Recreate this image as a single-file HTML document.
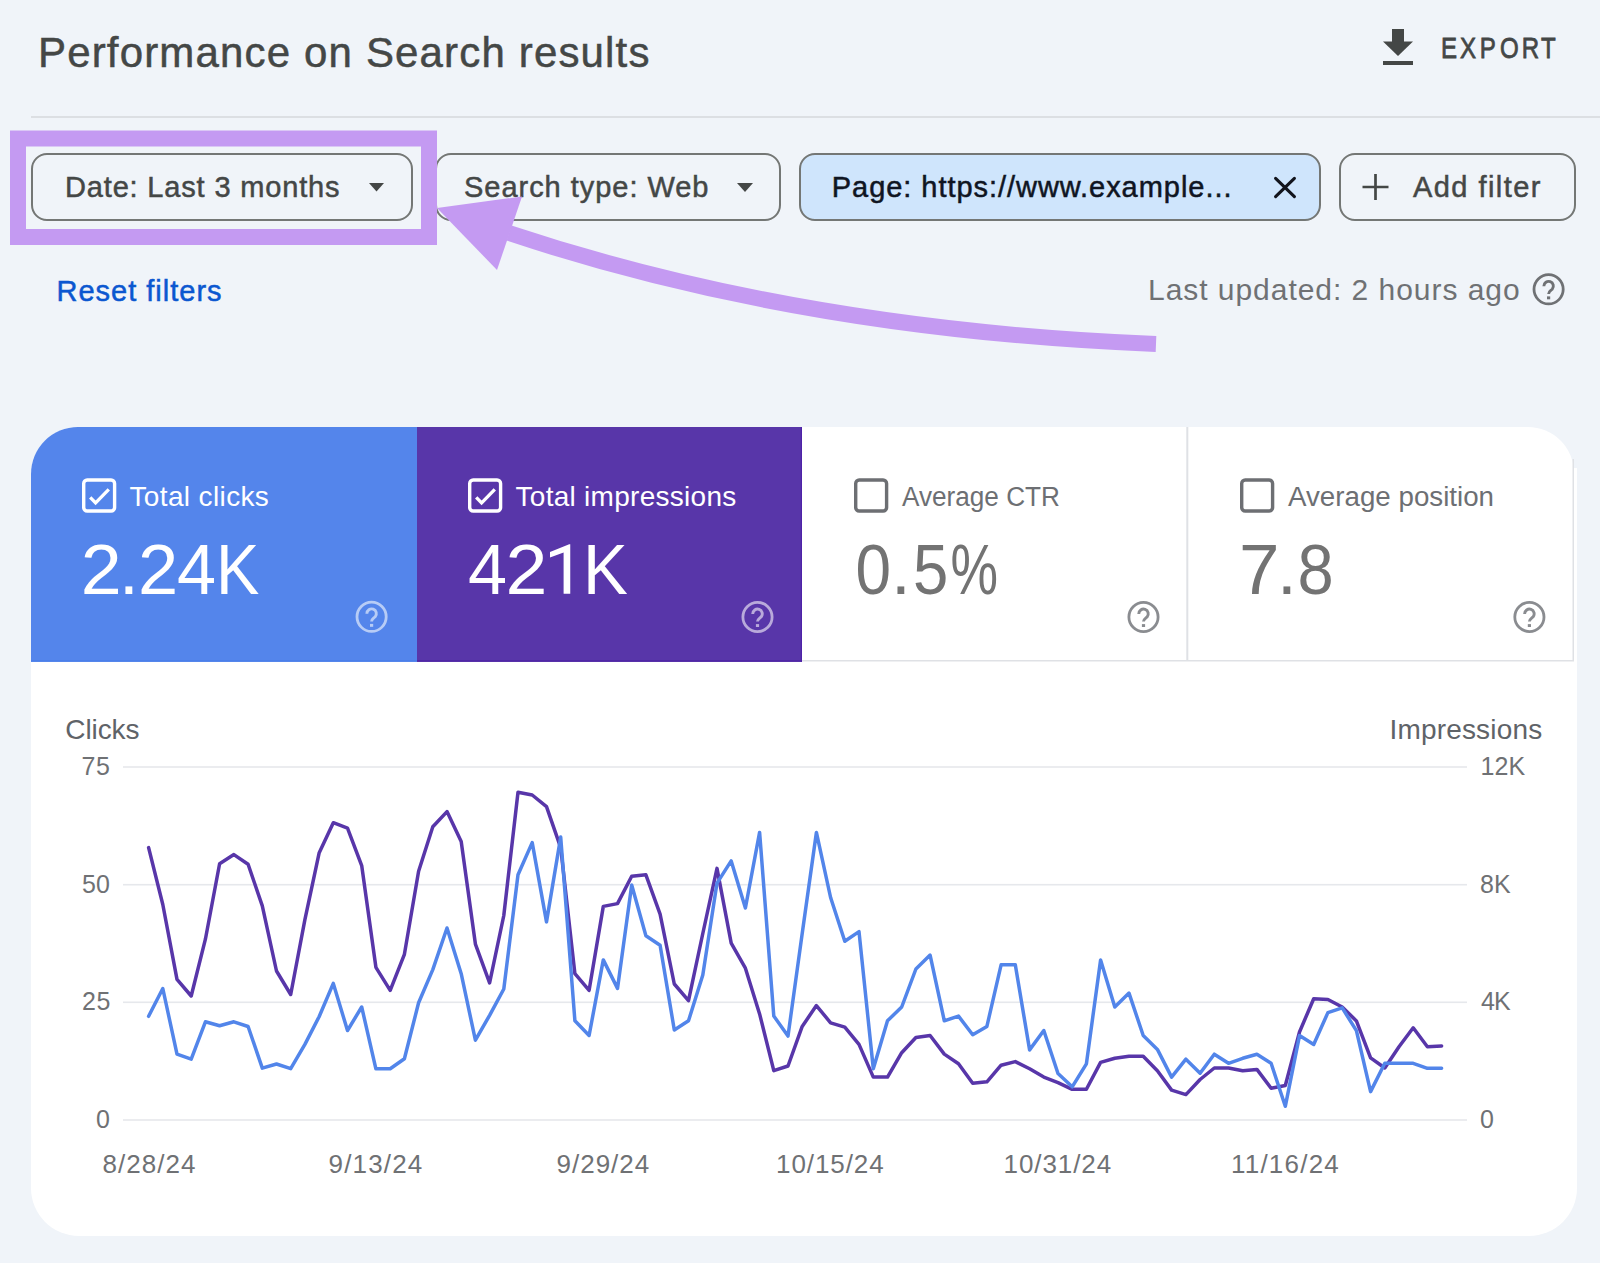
<!DOCTYPE html>
<html><head><meta charset="utf-8">
<style>
html,body{margin:0;padding:0;background:#f0f4f9;}
body{width:1600px;height:1263px;overflow:hidden;}
svg{display:block;}
text{font-family:"Liberation Sans",sans-serif;}
</style></head>
<body>
<svg width="1600" height="1263" viewBox="0 0 1600 1263">
<rect x="0" y="0" width="1600" height="1263" fill="#f0f4f9"/>
<text x="38.00" y="67" font-size="42" fill="#444746" stroke="#444746" stroke-width="0.5" textLength="611.44" lengthAdjust="spacing">Performance on Search results</text>
<g fill="#444746">
<rect x="1392" y="29" width="12" height="14"/>
<path d="M1383 41.5 H1413 L1398 56 Z"/>
<rect x="1383" y="61" width="30" height="4"/>
</g>
<g transform="translate(1441.00 58.3) scale(0.83 1)"><text x="0" y="0" font-size="29" fill="#444746" stroke="#444746" stroke-width="0.8">E</text></g><g transform="translate(1460.00 58.3) scale(0.83 1)"><text x="0" y="0" font-size="29" fill="#444746" stroke="#444746" stroke-width="0.8">X</text></g><g transform="translate(1479.80 58.3) scale(0.83 1)"><text x="0" y="0" font-size="29" fill="#444746" stroke="#444746" stroke-width="0.8">P</text></g><g transform="translate(1500.00 58.3) scale(0.83 1)"><text x="0" y="0" font-size="29" fill="#444746" stroke="#444746" stroke-width="0.8">O</text></g><g transform="translate(1521.80 58.3) scale(0.83 1)"><text x="0" y="0" font-size="29" fill="#444746" stroke="#444746" stroke-width="0.8">R</text></g><g transform="translate(1541.00 58.3) scale(0.83 1)"><text x="0" y="0" font-size="29" fill="#444746" stroke="#444746" stroke-width="0.8">T</text></g>
<rect x="31" y="116" width="1569" height="2" fill="#dcdfe3"/>

<rect x="32" y="154" width="380" height="66" rx="15" fill="none" stroke="#747775" stroke-width="2"/>
<text x="65.00" y="197.3" font-size="29" fill="#444746" stroke="#444746" stroke-width="0.5" textLength="274.53" lengthAdjust="spacing">Date: Last 3 months</text>
<path d="M369 183 H384 L376.5 191.5 Z" fill="#444746"/>
<rect x="436" y="154" width="344" height="66" rx="15" fill="none" stroke="#747775" stroke-width="2"/>
<text x="464.00" y="197.3" font-size="29" fill="#444746" stroke="#444746" stroke-width="0.5" textLength="244.48" lengthAdjust="spacing">Search type: Web</text>
<path d="M737 183 H753 L745 192 Z" fill="#444746"/>
<rect x="800" y="154" width="520" height="66" rx="15" fill="#cfe5fc" stroke="#747775" stroke-width="2"/>
<text x="831.75" y="197.3" font-size="29" fill="#0f1522" stroke="#0f1522" stroke-width="0.5" textLength="399.72" lengthAdjust="spacing">Page: https://www.example...</text>
<path d="M1275.6 178.3 L1294.4 196.6 M1294.4 178.3 L1275.6 196.6" stroke="#12141c" stroke-width="3.1" stroke-linecap="round"/>
<rect x="1340" y="154" width="235" height="66" rx="15" fill="none" stroke="#747775" stroke-width="2"/>
<path d="M1362.5 187 H1388.5 M1375.5 174 V200" stroke="#444746" stroke-width="2.7"/>
<text x="1413.00" y="197.3" font-size="29" fill="#444746" stroke="#444746" stroke-width="0.5" textLength="127.45" lengthAdjust="spacing">Add filter</text>

<rect x="18" y="138.5" width="411" height="98.5" fill="none" stroke="#c49af2" stroke-width="16"/>

<text x="56.50" y="300.7" font-size="29" fill="#0b57d0" stroke="#0b57d0" stroke-width="0.5" textLength="165.11" lengthAdjust="spacing">Reset filters</text>
<text x="1148.00" y="300.2" font-size="30" fill="#6f7174"  textLength="371.61" lengthAdjust="spacing">Last updated: 2 hours ago</text>
<g opacity="1"><circle cx="1548.6" cy="289.3" r="14.6" fill="none" stroke="#6f7174" stroke-width="2.8"/><path d="M1543.85 286.20 A4.75 4.75 0 1 1 1552.20 289.25 C1550.10 291.10 1548.60 291.50 1548.60 293.90" fill="none" stroke="#6f7174" stroke-width="2.9"/><rect x="1547.00" y="296.40" width="3.2" height="2.9" fill="#6f7174"/></g>

<path d="M1156 344 Q 800 330 509 233" fill="none" stroke="#c49af2" stroke-width="16"/>
<path d="M437 208 L522 196.5 L497 270 Z" fill="#c49af2"/>

<!-- card -->
<path d="M78 427 H1528 A46 46 0 0 1 1574 473 V661 H31 V474 A47 47 0 0 1 78 427 Z" fill="#ffffff"/>
<path d="M31 660 H1577 V1188 A48 48 0 0 1 1529 1236 H79 A48 48 0 0 1 31 1188 Z" fill="#ffffff"/>
<rect x="1574" y="468" width="3" height="193" fill="#ffffff"/>
<path d="M78 427 H417 V661.8 H31 V474 A47 47 0 0 1 78 427 Z" fill="#5485eb"/>
<rect x="31" y="660" width="386" height="1.8" fill="#4b7fea"/>
<rect x="417" y="427" width="385" height="234.8" fill="#5836a9"/>
<rect x="417" y="660" width="385" height="1.8" fill="#5027a6"/>
<rect x="800.8" y="427" width="1.2" height="234.8" fill="#4e22a8"/>
<rect x="802" y="660" width="772" height="1.5" fill="#dfe1e5"/>
<rect x="1186.3" y="427" width="2" height="234" fill="#dfe1e5"/>
<rect x="1572.5" y="459" width="1.5" height="202" fill="#dfe1e5"/>

<rect x="83.70" y="480.00" width="30.9" height="31" rx="3.5" fill="none" stroke="#ffffff" stroke-width="3.4"/><path d="M90.20 497.30 L95.60 502.90 L108.80 489.40" fill="none" stroke="#ffffff" stroke-width="3.3"/>
<text x="129.50" y="506" font-size="28" fill="#ffffff"  textLength="139.37" lengthAdjust="spacing">Total clicks</text>
<g transform="translate(80.75 593.8) scale(1.0369 1)"><text x="0" y="0" font-size="71" fill="#ffffff">2</text></g><g transform="translate(119.00 593.8) scale(1.0000 1)"><text x="0" y="0" font-size="71" fill="#ffffff">.</text></g><g transform="translate(138.00 593.8) scale(1.0185 1)"><text x="0" y="0" font-size="71" fill="#ffffff">2</text></g><g transform="translate(177.00 593.8) scale(0.9889 1)"><text x="0" y="0" font-size="71" fill="#ffffff">4</text></g><g transform="translate(216.00 593.8) scale(0.9155 1)"><text x="0" y="0" font-size="71" fill="#ffffff">K</text></g>
<g opacity="0.58"><circle cx="371.6" cy="616.8" r="14.6" fill="none" stroke="#ffffff" stroke-width="2.8"/><path d="M366.85 613.70 A4.75 4.75 0 1 1 375.20 616.75 C373.10 618.60 371.60 619.00 371.60 621.40" fill="none" stroke="#ffffff" stroke-width="2.9"/><rect x="370.00" y="623.90" width="3.2" height="2.9" fill="#ffffff"/></g>

<rect x="469.70" y="480.00" width="30.9" height="31" rx="3.5" fill="none" stroke="#ffffff" stroke-width="3.4"/><path d="M476.20 497.30 L481.60 502.90 L494.80 489.40" fill="none" stroke="#ffffff" stroke-width="3.3"/>
<text x="515.50" y="506" font-size="28" fill="#ffffff"  textLength="220.81" lengthAdjust="spacing">Total impressions</text>
<g transform="translate(468.00 593.8) scale(0.9892 1)"><text x="0" y="0" font-size="71" fill="#ffffff">4</text></g><g transform="translate(505.50 593.8) scale(1.0619 1)"><text x="0" y="0" font-size="71" fill="#ffffff">2</text></g><path d="M570.25 544.2 V593.8 H563.6 V552.6 L550 557.6 V551.9 L569.2 544.2 Z" fill="#ffffff"/><g transform="translate(583.00 593.8) scale(0.9471 1)"><text x="0" y="0" font-size="71" fill="#ffffff">K</text></g>
<g opacity="0.58"><circle cx="757.5" cy="617" r="14.6" fill="none" stroke="#ffffff" stroke-width="2.8"/><path d="M752.75 613.90 A4.75 4.75 0 1 1 761.10 616.95 C759.00 618.80 757.50 619.20 757.50 621.60" fill="none" stroke="#ffffff" stroke-width="2.9"/><rect x="755.90" y="624.10" width="3.2" height="2.9" fill="#ffffff"/></g>

<rect x="855.70" y="480.00" width="30.9" height="31" rx="3.5" fill="none" stroke="#6d6f73" stroke-width="3.4"/>
<text transform="translate(902.00 506) scale(0.9345 1)" x="0" y="0" font-size="28" fill="#6d6f73" >Average CTR</text>
<g transform="translate(855.50 593.8) scale(0.9007 1)"><text x="0" y="0" font-size="71" fill="#737373">0</text></g><g transform="translate(891.00 593.8) scale(1.0000 1)"><text x="0" y="0" font-size="71" fill="#737373">.</text></g><g transform="translate(913.00 593.8) scale(0.8945 1)"><text x="0" y="0" font-size="71" fill="#737373">5</text></g><g transform="translate(950.50 593.8) scale(0.7526 1)"><text x="0" y="0" font-size="71" fill="#737373">%</text></g>
<g opacity="1"><circle cx="1143.5" cy="617" r="14.6" fill="none" stroke="#8a8c90" stroke-width="2.8"/><path d="M1138.75 613.90 A4.75 4.75 0 1 1 1147.10 616.95 C1145.00 618.80 1143.50 619.20 1143.50 621.60" fill="none" stroke="#8a8c90" stroke-width="2.9"/><rect x="1141.90" y="624.10" width="3.2" height="2.9" fill="#8a8c90"/></g>

<rect x="1241.70" y="480.00" width="30.9" height="31" rx="3.5" fill="none" stroke="#6d6f73" stroke-width="3.4"/>
<text transform="translate(1288.00 506) scale(0.9903 1)" x="0" y="0" font-size="28" fill="#6d6f73" >Average position</text>
<g transform="translate(1239.00 593.8) scale(1.0254 1)"><text x="0" y="0" font-size="71" fill="#737373">7</text></g><g transform="translate(1277.00 593.8) scale(1.0000 1)"><text x="0" y="0" font-size="71" fill="#737373">.</text></g><g transform="translate(1297.50 593.8) scale(0.9162 1)"><text x="0" y="0" font-size="71" fill="#737373">8</text></g>
<g opacity="1"><circle cx="1529.4" cy="617" r="14.6" fill="none" stroke="#8a8c90" stroke-width="2.8"/><path d="M1524.65 613.90 A4.75 4.75 0 1 1 1533.00 616.95 C1530.90 618.80 1529.40 619.20 1529.40 621.60" fill="none" stroke="#8a8c90" stroke-width="2.9"/><rect x="1527.80" y="624.10" width="3.2" height="2.9" fill="#8a8c90"/></g>

<!-- chart -->
<g fill="#e6e8ec">
<rect x="123" y="766.2" width="1344" height="1.6"/>
<rect x="123" y="883.9" width="1344" height="1.6"/>
<rect x="123" y="1001.5" width="1344" height="1.6"/>
<rect x="123" y="1119.2" width="1344" height="1.6"/>
</g>
<text x="65.25" y="739.4" font-size="28" fill="#5f6368"  textLength="74.17" lengthAdjust="spacing">Clicks</text>
<text x="1389.50" y="739.4" font-size="28" fill="#5f6368"  textLength="152.69" lengthAdjust="spacing">Impressions</text>
<text x="81.50" y="775" font-size="25" fill="#6f7174"  textLength="28.31" lengthAdjust="spacing">75</text><text x="82.00" y="892.7" font-size="25" fill="#6f7174"  textLength="27.81" lengthAdjust="spacing">50</text><text x="82.00" y="1010.3" font-size="25" fill="#6f7174"  textLength="28.31" lengthAdjust="spacing">25</text><text x="96.00" y="1128" font-size="25" fill="#6f7174"  textLength="10.66" lengthAdjust="spacing">0</text>
<text x="1480.50" y="775" font-size="25" fill="#6f7174"  textLength="44.73" lengthAdjust="spacing">12K</text><text x="1480.00" y="892.7" font-size="25" fill="#6f7174"  textLength="30.59" lengthAdjust="spacing">8K</text><text x="1481.00" y="1010.3" font-size="25" fill="#6f7174"  textLength="29.59" lengthAdjust="spacing">4K</text><text x="1480.00" y="1128" font-size="25" fill="#6f7174"  textLength="12.91" lengthAdjust="spacing">0</text>
<text x="102.50" y="1173" font-size="26" fill="#6f7174"  textLength="93.00" lengthAdjust="spacing">8/28/24</text><text x="328.50" y="1173" font-size="26" fill="#6f7174"  textLength="93.75" lengthAdjust="spacing">9/13/24</text><text x="556.50" y="1173" font-size="26" fill="#6f7174"  textLength="92.75" lengthAdjust="spacing">9/29/24</text><text x="776.00" y="1173" font-size="26" fill="#6f7174"  textLength="107.72" lengthAdjust="spacing">10/15/24</text><text x="1003.50" y="1173" font-size="26" fill="#6f7174"  textLength="107.72" lengthAdjust="spacing">10/31/24</text><text x="1231.00" y="1173" font-size="26" fill="#6f7174"  textLength="107.78" lengthAdjust="spacing">11/16/24</text>
<polyline points="148.6,847.6 162.8,904.5 177.0,979.4 191.2,996.0 205.4,939.2 219.6,863.7 233.9,854.6 248.1,864.3 262.3,905.9 276.5,971.0 290.7,994.5 304.9,919.7 319.1,853.1 333.3,822.7 347.5,828.2 361.7,865.6 375.9,967.3 390.2,990.3 404.4,954.3 418.6,871.2 432.8,826.8 447.0,811.6 461.2,841.5 475.4,944.1 489.6,982.9 503.8,915.5 518.0,792.2 532.2,795.0 546.5,806.6 560.7,847.6 574.9,973.7 589.1,990.3 603.3,906.4 617.5,903.6 631.7,876.2 645.9,874.8 660.1,914.1 674.3,984.0 688.5,1000.6 702.8,933.5 717.0,868.4 731.2,943.2 745.4,968.2 759.6,1013.9 773.8,1070.7 788.0,1066.0 802.2,1026.4 816.4,1005.6 830.6,1022.8 844.8,1027.2 859.0,1044.4 873.3,1077.1 887.5,1077.1 901.7,1052.7 915.9,1037.5 930.1,1035.5 944.3,1054.1 958.5,1063.8 972.7,1083.2 986.9,1081.8 1001.1,1065.2 1015.3,1061.6 1029.6,1068.8 1043.8,1077.1 1058.0,1082.6 1072.2,1089.3 1086.4,1089.3 1100.6,1062.4 1114.8,1058.2 1129.0,1056.3 1143.2,1056.3 1157.4,1070.7 1171.6,1090.1 1185.9,1094.6 1200.1,1079.5 1214.3,1068.0 1228.5,1068.0 1242.7,1070.8 1256.9,1069.4 1271.1,1088.3 1285.3,1085.5 1299.5,1032.0 1313.7,998.7 1327.9,999.5 1342.2,1007.0 1356.4,1020.9 1370.6,1057.8 1384.8,1068.0 1399.0,1046.7 1413.2,1027.8 1427.4,1046.7 1441.6,1045.9" fill="none" stroke="#5836a9" stroke-width="3.5" stroke-linejoin="round" stroke-linecap="round"/>
<polyline points="148.6,1016.3 162.8,988.5 177.0,1054.2 191.2,1059.2 205.4,1021.8 219.6,1025.7 233.9,1021.8 248.1,1026.5 262.3,1068.1 276.5,1064.0 290.7,1068.6 304.9,1044.4 319.1,1016.7 333.3,983.4 347.5,1030.5 361.7,1007.0 375.9,1068.8 390.2,1068.8 404.4,1058.8 418.6,1002.8 432.8,969.6 447.0,928.0 461.2,973.7 475.4,1040.2 489.6,1015.3 503.8,989.0 518.0,874.8 532.2,842.6 546.5,921.9 560.7,837.1 574.9,1020.8 589.1,1035.5 603.3,959.9 617.5,988.4 631.7,885.0 645.9,935.7 660.1,945.2 674.3,1030.0 688.5,1020.8 702.8,975.1 717.0,883.1 731.2,860.9 745.4,908.0 759.6,832.4 773.8,1016.1 788.0,1036.1 802.2,933.5 816.4,832.4 830.6,897.5 844.8,941.3 859.0,931.6 873.3,1068.8 887.5,1020.8 901.7,1007.0 915.9,969.0 930.1,955.1 944.3,1020.8 958.5,1016.1 972.7,1034.7 986.9,1026.4 1001.1,964.8 1015.3,964.8 1029.6,1049.9 1043.8,1030.5 1058.0,1073.5 1072.2,1086.8 1086.4,1063.8 1100.6,959.9 1114.8,1007.0 1129.0,993.1 1143.2,1035.5 1157.4,1049.4 1171.6,1077.1 1185.9,1059.2 1200.1,1073.2 1214.3,1054.2 1228.5,1063.3 1242.7,1058.3 1256.9,1054.2 1271.1,1063.3 1285.3,1106.3 1299.5,1035.6 1313.7,1044.5 1327.9,1012.6 1342.2,1007.9 1356.4,1030.6 1370.6,1091.6 1384.8,1063.3 1399.0,1063.3 1413.2,1063.3 1427.4,1068.3 1441.6,1068.3" fill="none" stroke="#5285ea" stroke-width="3.5" stroke-linejoin="round" stroke-linecap="round"/>
</svg>
</body></html>
